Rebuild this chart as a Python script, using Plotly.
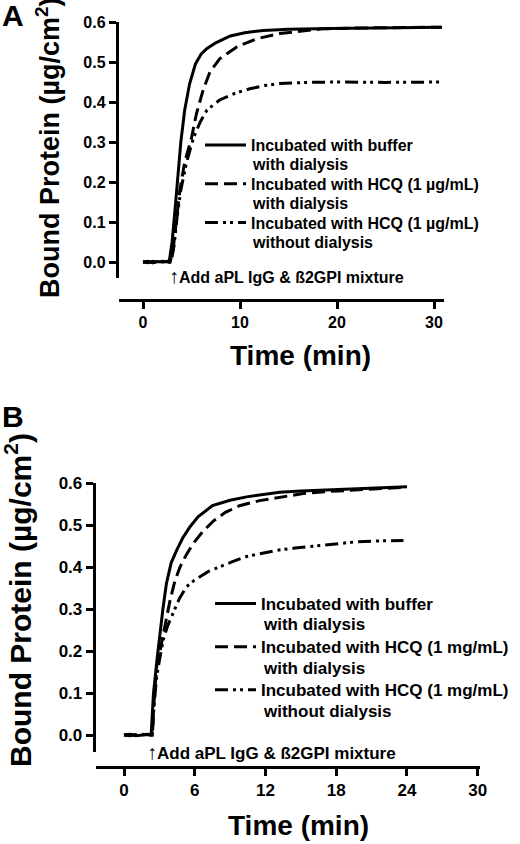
import plotly.graph_objects as go

# ---- panel A data (time in min, bound protein in ug/cm2) ----
a_buf_t = [0, 0.5, 1, 1.5, 2, 2.5, 2.7, 3.0, 3.3, 3.6, 3.9, 4.3, 4.8, 5.4, 6.0, 6.6, 7.5, 9, 10.5, 12.4, 15, 19.3, 25, 30.8]
a_buf_y = [0, 0.002, -0.002, 0.001, 0, 0.002, 0, 0.05, 0.13, 0.22, 0.30, 0.38, 0.445, 0.495, 0.52, 0.534, 0.548, 0.565, 0.573, 0.579, 0.582, 0.584, 0.586, 0.587]

a_hcq_t = [0, 0.5, 1, 1.5, 2, 2.5, 2.8, 3.1, 3.4, 3.8, 4.3, 5.0, 5.5, 6.2, 6.9, 7.9, 9.7, 11.7, 14.1, 16.5, 18.5, 22, 26, 30.8]
a_hcq_y = [0, -0.002, 0.002, 0, 0.001, 0, 0, 0.03, 0.10, 0.18, 0.25, 0.31, 0.37, 0.43, 0.475, 0.508, 0.538, 0.558, 0.571, 0.578, 0.583, 0.585, 0.586, 0.587]

a_nod_t = [0, 0.5, 1, 1.5, 2, 2.5, 2.9, 3.2, 3.5, 3.9, 4.5, 5.2, 5.9, 6.6, 7.9, 9.5, 11, 12.5, 14.1, 17, 20, 25, 30.9]
a_nod_y = [0, 0.001, -0.002, 0, 0.002, 0, 0, 0.04, 0.11, 0.18, 0.25, 0.31, 0.35, 0.38, 0.405, 0.422, 0.433, 0.441, 0.446, 0.449, 0.45, 0.449, 0.45]

# ---- panel B data ----
b_buf_t = [0, 0.5, 1, 1.5, 2, 2.3, 2.4, 2.5, 2.8, 3.05, 3.3, 3.6, 4.0, 4.47, 5.0, 5.6, 6.3, 7.5, 9, 10.4, 12, 13.2, 15, 17.5, 20, 22, 24]
b_buf_y = [0, 0.002, -0.002, 0, 0.001, 0, 0.05, 0.099, 0.18, 0.242, 0.30, 0.361, 0.41, 0.44, 0.47, 0.496, 0.52, 0.546, 0.559, 0.567, 0.574, 0.578, 0.581, 0.584, 0.586, 0.588, 0.591]

b_hcq_t = [0, 0.5, 1, 1.5, 2, 2.4, 2.55, 2.77, 3.05, 3.33, 3.9, 4.3, 4.75, 5.3, 5.87, 6.7, 7.6, 8.6, 9.8, 11.5, 13.2, 15.2, 17.5, 20, 22, 24]
b_hcq_y = [0, -0.002, 0.001, 0, 0.002, 0, 0.08, 0.163, 0.20, 0.242, 0.32, 0.365, 0.40, 0.43, 0.456, 0.485, 0.51, 0.53, 0.546, 0.558, 0.566, 0.575, 0.58, 0.584, 0.587, 0.59]

b_nod_t = [0, 0.5, 1, 1.5, 2, 2.4, 2.55, 2.77, 3.05, 3.33, 3.7, 4.18, 4.7, 5.3, 5.9, 6.44, 7.2, 8.1, 9.2, 10.4, 11.5, 13, 14.5, 16.9, 18.5, 19.7, 21.5, 23.7]
b_nod_y = [0, 0.001, -0.001, 0.002, 0, 0, 0.07, 0.139, 0.185, 0.226, 0.26, 0.29, 0.325, 0.353, 0.367, 0.377, 0.39, 0.40, 0.413, 0.425, 0.432, 0.44, 0.445, 0.452, 0.457, 0.46, 0.462, 0.463]

# legend entries: first line goes in the legend, second line is written underneath
names_a = ["Incubated with buffer", "Incubated with HCQ (1 µg/mL)", "Incubated with HCQ (1 µg/mL)"]
names_b = ["Incubated with buffer", "Incubated with HCQ (1 mg/mL)", "Incubated with HCQ (1 mg/mL)"]
second_lines = ["with dialysis", "with dialysis", "without dialysis"]

W, H = 520, 844
FONT = "Liberation Sans, Arial, sans-serif"
DASHES = ["solid", "13px,6px", "13px,5px,3px,4px,3px,5px"]


def px(x):
    return x / W


def py(y):
    return 1 - y / H


fig = go.Figure()

series_a = [(a_buf_t, a_buf_y), (a_hcq_t, a_hcq_y), (a_nod_t, a_nod_y)]
series_b = [(b_buf_t, b_buf_y), (b_hcq_t, b_hcq_y), (b_nod_t, b_nod_y)]

for i, ((t, y), name, dash) in enumerate(zip(series_a, names_a, DASHES)):
    fig.add_trace(go.Scatter(x=t, y=y, mode="lines", name=name, xaxis="x", yaxis="y",
                             line=dict(color="black", width=3, dash=dash),
                             legend="legend", legendgroup="a%d" % i))
for i, ((t, y), name, dash) in enumerate(zip(series_b, names_b, DASHES)):
    fig.add_trace(go.Scatter(x=t, y=y, mode="lines", name=name, xaxis="x2", yaxis="y2",
                             line=dict(color="black", width=3, dash=dash),
                             legend="legend2", legendgroup="b%d" % i))

axis_style = dict(showline=True, linewidth=3, linecolor="black", ticks="outside", ticklen=7,
                  tickwidth=2.5, tickcolor="black", showgrid=False, zeroline=False,
                  automargin=False)

fig.update_layout(
    width=W, height=H,
    margin=dict(l=0, r=0, t=0, b=0, autoexpand=False),
    paper_bgcolor="white", plot_bgcolor="white",
    font=dict(family=FONT, color="black"),
    xaxis=dict(domain=[px(118.75), px(443.7)], range=[-2.5, 31], tickvals=[0, 10, 20, 30],
               anchor="free", position=py(300),
               tickfont=dict(size=16, weight="bold"), **axis_style),
    yaxis=dict(domain=[py(278), py(22)], range=[-0.04, 0.6], tickvals=[0, 0.1, 0.2, 0.3, 0.4, 0.5, 0.6],
               tickformat=".1f", anchor="x", tickfont=dict(size=16, weight="bold"), **axis_style),
    xaxis2=dict(domain=[px(95.7), px(480.1)], range=[-2.4, 30.2], tickvals=[0, 6, 12, 18, 24, 30],
                anchor="free", position=py(767),
                tickfont=dict(size=17, weight="bold"), **axis_style),
    yaxis2=dict(domain=[py(751.8), py(483)], range=[-0.04, 0.6], tickvals=[0, 0.1, 0.2, 0.3, 0.4, 0.5, 0.6],
                tickformat=".1f", anchor="x2", tickfont=dict(size=17, weight="bold"), **axis_style),
    legend=dict(x=px(200), y=py(128), xanchor="left", yanchor="top", bgcolor="rgba(0,0,0,0)",
                font=dict(size=16, weight="bold"), tracegroupgap=15, itemwidth=41),
    legend2=dict(x=px(210), y=py(586), xanchor="left", yanchor="top", bgcolor="rgba(0,0,0,0)",
                 font=dict(size=17, weight="bold"), tracegroupgap=18, itemwidth=41),
)

ann = [
    dict(text="A", x=px(0), y=py(16), xanchor="left", yanchor="middle", font=dict(size=30, weight="bold")),
    dict(text="B", x=px(0), y=py(416), xanchor="left", yanchor="middle", font=dict(size=30, weight="bold")),
    dict(text="Bound Protein (µg/cm<sup>2</sup>)", x=px(48), y=py(148), textangle=-90,
         xanchor="center", yanchor="middle", font=dict(size=27, weight="bold")),
    dict(text="Bound Protein (µg/cm<sup>2</sup>)", x=px(18), y=py(600), textangle=-90,
         xanchor="center", yanchor="middle", font=dict(size=30, weight="bold")),
    dict(text="Time (min)", x=px(300), y=py(355), xanchor="center", yanchor="middle",
         font=dict(size=28, weight="bold")),
    dict(text="Time (min)", x=px(298), y=py(825), xanchor="center", yanchor="middle",
         font=dict(size=28, weight="bold")),
]
# second lines of the legend entries
for txt, yy in zip(second_lines, [164, 203, 243]):
    ann.append(dict(text=txt, x=px(250), y=py(yy), xanchor="left", yanchor="middle",
                    font=dict(size=16, weight="bold")))
for txt, yy in zip(second_lines, [624, 668, 711]):
    ann.append(dict(text=txt, x=px(261), y=py(yy), xanchor="left", yanchor="middle",
                    font=dict(size=17, weight="bold")))
for a in ann:
    a.update(xref="paper", yref="paper", showarrow=False)

# arrow notes placed on the data axes
arrow = '<span style="font-size:20px">↑</span><b>Add aPL IgG & ß2GPI mixture</b>'
ann.append(dict(text=arrow, x=2.5, y=-0.035, xref="x", yref="y",
                xanchor="left", yanchor="middle", showarrow=False, font=dict(size=16)))
ann.append(dict(text=arrow, x=1.8, y=-0.04, xref="x2", yref="y2",
                xanchor="left", yanchor="middle", showarrow=False, font=dict(size=17)))

fig.update_layout(annotations=ann)

fig.write_html("out.html", config={"displayModeBar": False},
               post_script="document.body.style.margin='0';"
                           "var d=document.getElementById('{plot_id}');"
                           "d.style.position='absolute';d.style.top='0';d.style.left='0';")
